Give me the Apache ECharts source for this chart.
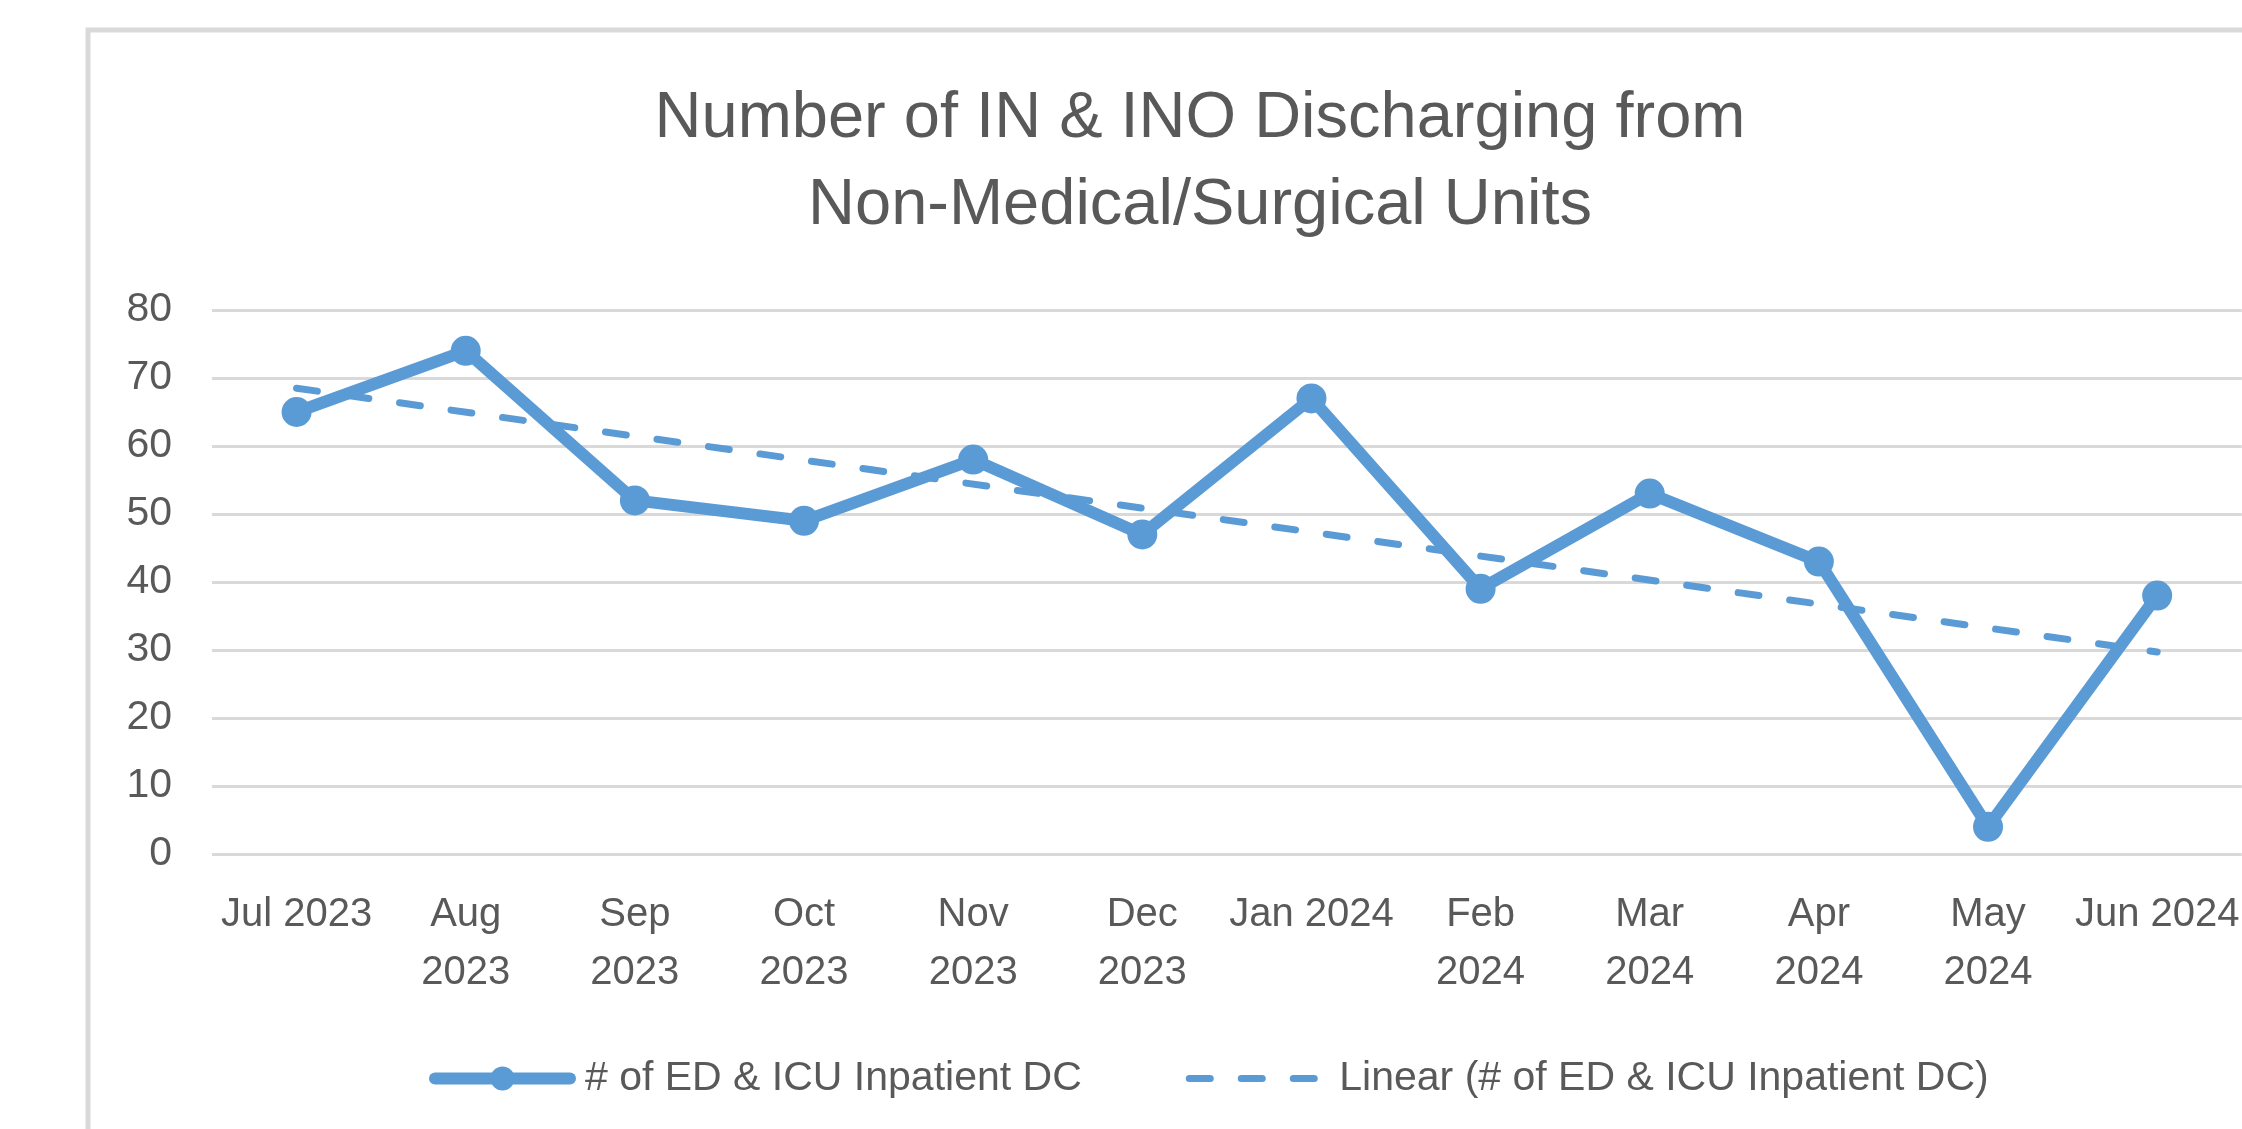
<!DOCTYPE html>
<html>
<head>
<meta charset="utf-8">
<script src="https://cdn.jsdelivr.net/npm/echarts@6/dist/echarts.min.js"></script>
<style>
  html, body { margin: 0; padding: 0; background: #fff; }
  #chart { width: 2242px; height: 1129px; }
</style>
</head>
<body>
<div id="chart"></div>
<script>
// x 轴标签（Excel 里自动换行的位置）
const categories = ['Jul 2023', 'Aug\n2023', 'Sep\n2023', 'Oct\n2023', 'Nov\n2023', 'Dec\n2023',
  'Jan 2024', 'Feb\n2024', 'Mar\n2024', 'Apr\n2024', 'May\n2024', 'Jun 2024']
// 每月数量
const dcCounts = [65, 74, 52, 49, 58, 47, 67, 39, 53, 43, 4, 38]
// 趋势线首尾两端
const trendStart = 68.5
const trendEnd = 29.7
const yTicks = { min: 0, max: 80, interval: 10 }

const seriesName = '# of ED & ICU Inpatient DC'
const trendName = 'Linear (# of ED & ICU Inpatient DC)'
const blue = '#5B9BD5'
const grey = '#595959'
const font = 'Liberation Sans'

const trendData = categories.map(function(c, i) {
  if (i === 0) return trendStart
  if (i === categories.length - 1) return trendEnd
  return null
})

const chart = echarts.init(document.getElementById('chart'))
chart.setOption({
  backgroundColor: '#fff',
  animation: false,
  title: {
    text: 'Number of IN & INO Discharging from\nNon-Medical/Surgical Units',
    left: 1200,
    top: 76,
    padding: 0,
    textAlign: 'center',
    textStyle: {
      fontFamily: font,
      fontSize: 65,
      fontWeight: 'normal',
      lineHeight: 87,
      color: grey
    }
  },
  // 外框
  graphic: [{
    type: 'rect',
    shape: { x: 88, y: 30, width: 2400, height: 1300 },
    style: { fill: null, stroke: '#d9d9d9', lineWidth: 5 },
    silent: true
  }],
  grid: {
    left: 212,
    right: -11,
    top: 310,
    bottom: 275,
    containLabel: false
  },
  legend: {
    left: 429,
    top: 1058,
    padding: 0,
    itemWidth: 135,
    itemHeight: 30,
    itemGap: 104,
    lineStyle: { width: 'inherit' },
    textStyle: { fontFamily: font, fontSize: 41, color: grey, padding: [0, 0, 0, 10] },
    data: [
      seriesName,
      // 趋势线图例只要虚线，不要圆点
      { name: trendName, itemStyle: { color: 'rgba(0,0,0,0)', opacity: 0 } }
    ]
  },
  xAxis: {
    type: 'category',
    data: categories,
    boundaryGap: true,
    axisLine: { show: false },
    axisTick: { show: false },
    axisLabel: {
      interval: 0,
      hideOverlap: false,
      margin: 32,
      fontFamily: font,
      fontSize: 40,
      lineHeight: 58,
      color: grey
    }
  },
  yAxis: {
    type: 'value',
    min: yTicks.min,
    max: yTicks.max,
    interval: yTicks.interval,
    axisLine: { show: false },
    axisTick: { show: false },
    axisLabel: { margin: 40, fontFamily: font, fontSize: 41, color: grey },
    splitLine: { lineStyle: { color: '#d9d9d9', width: 3 } }
  },
  series: [
    {
      name: trendName,
      type: 'line',
      data: trendData,
      connectNulls: true,
      symbol: 'none',
      z: 2,
      lineStyle: { color: blue, width: 7, type: [21, 31], cap: 'round' },
      itemStyle: { color: blue }
    },
    {
      name: seriesName,
      type: 'line',
      data: dcCounts,
      symbol: 'circle',
      symbolSize: 30,
      z: 3,
      lineStyle: { color: blue, width: 12, cap: 'round', join: 'round' },
      itemStyle: { color: blue }
    }
  ]
})
</script>
</body>
</html>
